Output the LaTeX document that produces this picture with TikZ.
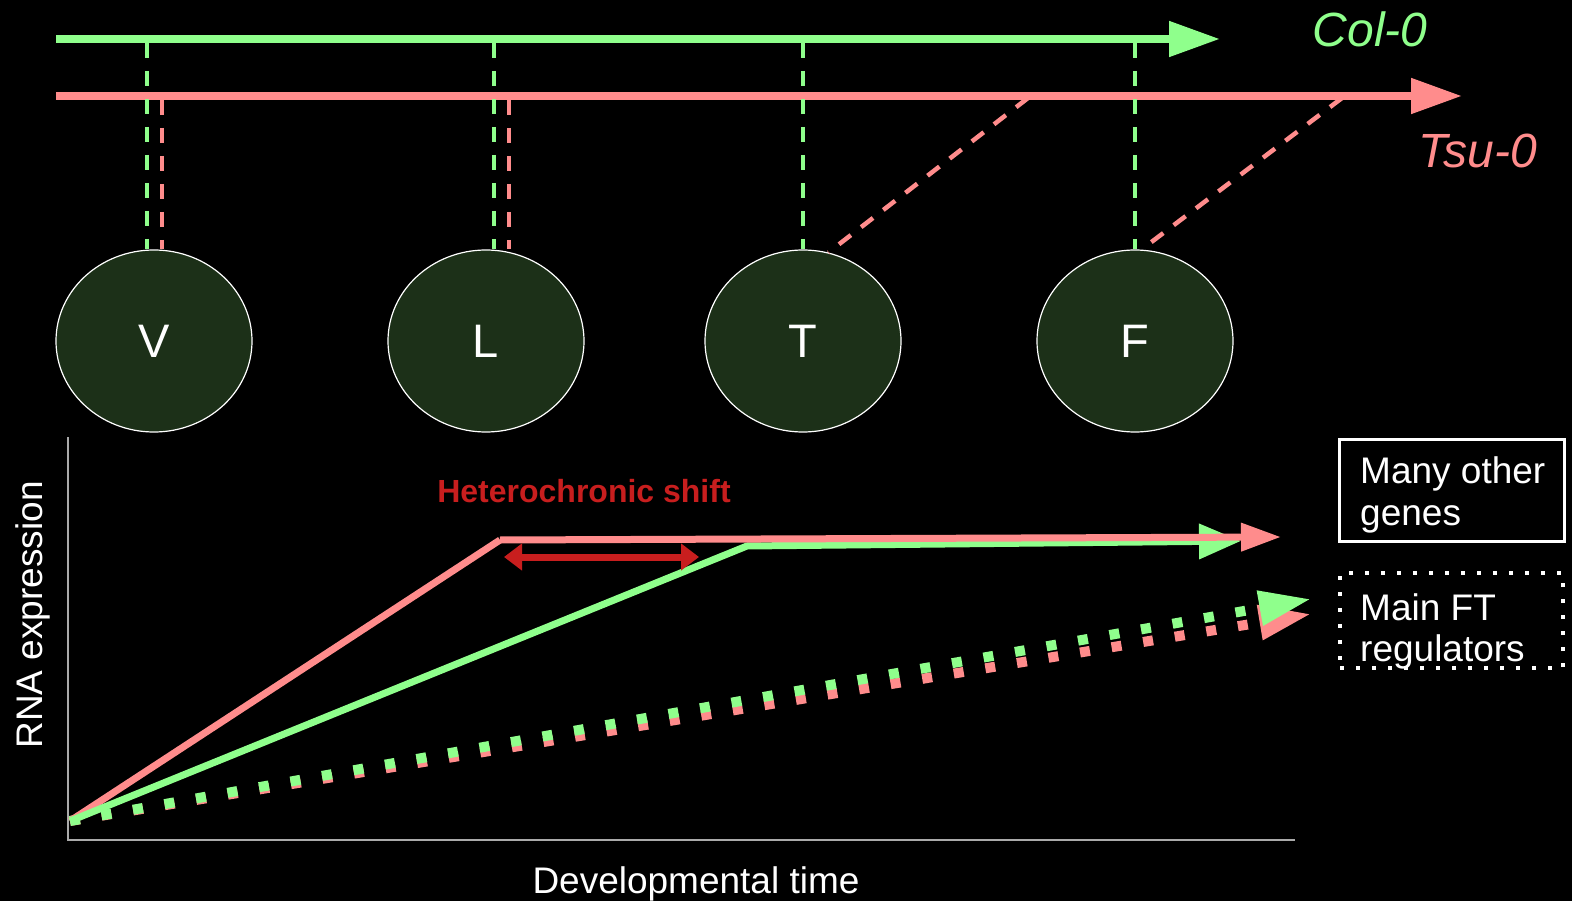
\documentclass[tikz,border=0pt]{standalone}
\usepackage{fontspec}
\setmainfont{Liberation Sans}
\usetikzlibrary{arrows.meta,shapes.geometric}
\definecolor{cgreen}{RGB}{143,255,140}
\definecolor{cpink}{RGB}{255,140,140}
\definecolor{cred}{RGB}{200,30,30}
\definecolor{cfill}{RGB}{28,48,24}
\definecolor{caxis}{RGB}{170,170,170}
\begin{document}
\begin{tikzpicture}[x=1pt,y=-1pt,
  stage/.style={ellipse, draw=white, line width=1.2pt, fill=cfill, minimum width=196pt, minimum height=182pt, inner sep=0pt, text=white, font=\fontsize{47}{50}\selectfont},
  timeline/.style={line width=8pt, -{Triangle[length=51pt,width=34pt]}},
  gdash/.style={cgreen, line width=4.5pt, dash pattern=on 15pt off 13pt},
  pdash/.style={cpink, line width=4.5pt, dash pattern=on 15pt off 13pt},
  curve/.style={line width=7pt},
  dotline/.style={line width=10pt, dash pattern=on 10pt off 22pt, -{Triangle[length=52pt,width=33pt]}},
  lbl/.style={text=white, font=\fontsize{37}{42}\selectfont, inner sep=0pt},
  legtext/.style={lbl, anchor=base west},
  strain/.style={anchor=base, font=\fontsize{48}{50}\selectfont\itshape, inner sep=0pt},
]
\useasboundingbox (0,0) rectangle (1572,901);
\fill[black] (0,0) rectangle (1572,901);

% time lines
\coordinate (gS) at (56,39);
\coordinate (gE) at (1220,39);
\coordinate (pS) at (56,96);
\coordinate (pE) at (1462,96);
\draw[timeline, cgreen] (gS) -- (gE);
\draw[timeline, cpink] (pS) -- (pE);
\node[strain, text=cgreen] (col) at (1370,47) {Col-0};
\node[strain, text=cpink] (tsu) at (1478,168) {Tsu-0};

% stages
\node[stage] (V) at (154,341) {V};
\node[stage] (L) at (486,341) {L};
\node[stage] (T) at (803,341) {T};
\node[stage] (F) at (1135,341) {F};

% stage markers
\coordinate (gV) at (147,43);
\coordinate (gL) at (494,43);
\coordinate (gT) at (803,43);
\coordinate (gF) at (1135,43);
\coordinate (pV) at (162,100);
\coordinate (pL) at (509,100);
\coordinate (pT) at (1028,98);
\coordinate (pF) at (1342,98);
\draw[pdash] (pV) -- (pV |- V.north);
\draw[pdash] (pL) -- (pL |- L.north);
\draw[pdash] (pT) -- (T.74);
\draw[pdash] (pF) -- (F.86);
\draw[gdash] (gV) -- (gV |- V.north);
\draw[gdash] (gL) -- (gL |- L.north);
\draw[gdash] (gT) -- (gT |- T.north);
\draw[gdash] (gF) -- (gF |- F.north);

% axes
\coordinate (ytop) at (68,437);
\coordinate (orig) at (68,840);
\coordinate (xend) at (1295,840);
\draw[caxis, line width=2pt] (ytop) -- (orig) -- (xend);
\node[lbl, anchor=base, rotate=90] (ylab) at (42,615) {RNA expression};
\node[lbl, anchor=base] (xlab) at (696,893) {Developmental time};

% expression curves
\coordinate (O) at (70,821);
\coordinate (pk) at (500,540);
\coordinate (gk) at (747,546);
\coordinate (pEnd) at (1281,537);
\coordinate (gEnd) at (1241,541);
\coordinate (pdEnd) at (1311,614);
\coordinate (gdEnd) at (1311,599);
\draw[dotline, cpink] (O) -- (pdEnd);
\draw[dotline, cgreen] (O) -- (gdEnd);
\draw[curve, cpink] (O) -- (pk);
\draw[curve, cgreen, -{Triangle[length=42pt,width=34pt]}] (O) -- (gk) -- (gEnd);
\draw[curve, cpink, -{Triangle[length=40pt,width=27pt]}] (pk) -- (pEnd);

% heterochronic shift
\coordinate (hL) at (504,557);
\coordinate (hR) at (699,557);
\draw[cred, line width=7pt, {Triangle[length=18pt,width=26pt]}-{Triangle[length=18pt,width=26pt]}] (hL) -- (hR);
\node[anchor=base, text=cred, font=\fontsize{32}{36}\selectfont\bfseries, inner sep=0pt] (het) at (584,502) {Heterochronic shift};

% legend
\node[draw=white, line width=3pt, minimum width=225pt, minimum height=102pt, inner sep=0pt] (boxA) at (1452,490.5) {};
\node[draw=white, line width=4pt, dash pattern=on 4pt off 12pt, minimum width=223pt, minimum height=95pt, inner sep=0pt] (boxB) at (1451.5,620.5) {};
\node[legtext] (a1) at (1360,483) {Many other};
\node[legtext] (a2) at (1360,525) {genes};
\node[legtext] (b1) at (1360,620) {Main FT};
\node[legtext] (b2) at (1360,661) {regulators};
\end{tikzpicture}
\end{document}
